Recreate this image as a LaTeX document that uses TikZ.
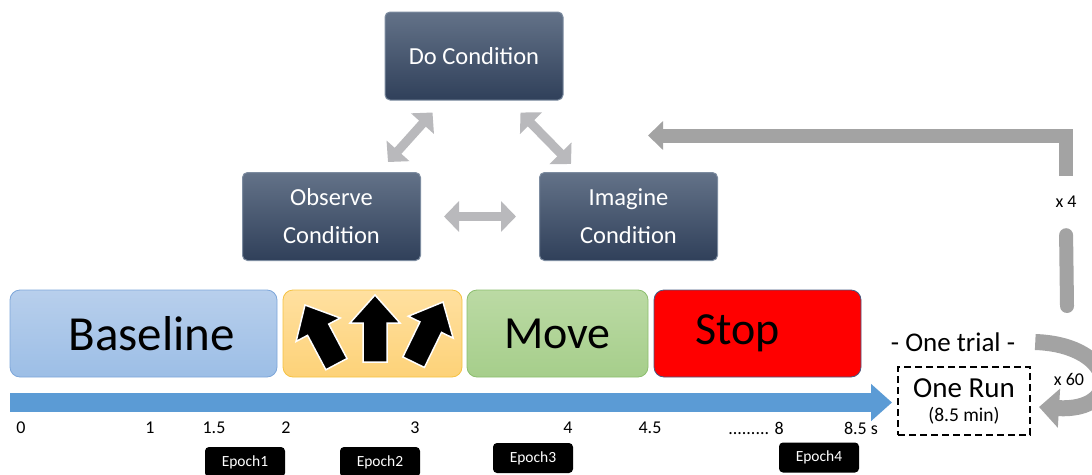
\documentclass[tikz,border=0pt]{standalone}
\usepackage{fontspec}
\setmainfont{Carlito}
\usetikzlibrary{arrows.meta,positioning}
\definecolor{slatetop}{RGB}{99,114,136}
\definecolor{slatebot}{RGB}{48,64,90}
\definecolor{slateedge}{RGB}{125,140,160}
\definecolor{basetop}{RGB}{184,207,236}
\definecolor{basebot}{RGB}{156,190,230}
\definecolor{baseedge}{RGB}{125,166,217}
\definecolor{cuetop}{RGB}{255,224,160}
\definecolor{cuebot}{RGB}{253,210,120}
\definecolor{cueedge}{RGB}{245,194,66}
\definecolor{movetop}{RGB}{187,218,164}
\definecolor{movebot}{RGB}{166,206,139}
\definecolor{moveedge}{RGB}{140,190,110}
\definecolor{stopred}{RGB}{255,0,0}
\definecolor{stopedge}{RGB}{70,90,130}
\definecolor{timeblue}{RGB}{91,155,213}
\definecolor{swapgray}{RGB}{185,185,188}
\definecolor{loopgray}{RGB}{163,163,163}

\begin{document}
\begin{tikzpicture}[x=1pt, y=-1pt,
    cond/.style={rectangle, rounded corners=5pt, draw=slateedge, line width=1pt, top color=slatetop, bottom color=slatebot, text=white, minimum width=178pt, minimum height=88pt, align=center, font=\fontsize{24.5}{38}\selectfont},
    phase/.style={rectangle, rounded corners=10pt, line width=0.8pt, minimum height=87pt, font=\fontsize{46}{50}\selectfont},
    tick/.style={inner sep=0pt, font=\fontsize{18}{20}\selectfont},
    epoch/.style={rectangle, rounded corners=4pt, fill=black, text=white, minimum width=80pt, minimum height=30pt, font=\fontsize{15.5}{17}\selectfont},
    swap/.style={line width=9pt, draw=swapgray, {Triangle[length=15pt,width=30pt]}-{Triangle[length=15pt,width=30pt]}},
    loopbar/.style={line width=14pt, draw=loopgray},
    bigarr/.style={fill=black, draw=white, line width=1.5pt, line join=miter},
    lbl/.style={inner sep=1pt, font=\fontsize{18}{20}\selectfont}
]
\useasboundingbox (0,0) rectangle (1092,474);
\clip (0,0) rectangle (1092,474);

% conditions
\node[cond] (do) at (474,56) {Do Condition};
\node[cond] (obs) at (331.5,216.5) {Observe\\Condition};
\node[cond] (img) at (628.5,216.5) {Imagine\\Condition};

\draw[swap] ([shift={(56.5,-10)}]obs.north) -- ([shift={(48,12)}]do.south west);
\draw[swap] ([shift={(-43,12)}]do.south east) -- ([shift={(32,-8)}]img.north west);
\draw[swap] ([xshift=23pt]obs.east) -- ([xshift=-23pt]img.west);

% trial phases
\node[phase, top color=basetop, bottom color=basebot, draw=baseedge, minimum width=267pt, font=\fontsize{49}{50}\selectfont] (base) at (143.5,333.5) {\hspace*{16pt}Baseline};
\node[phase, top color=cuetop, bottom color=cuebot, draw=cueedge, minimum width=179pt] (cue) at (372.5,333.5) {};
\node[phase, top color=movetop, bottom color=movebot, draw=moveedge, minimum width=181pt] (move) at (557.5,333.5) {Move};
\node[phase, fill=stopred, draw=stopedge, minimum width=207pt] (stop) at (757.5,333.5) {\hspace*{-40pt}Stop};

\foreach \tx/\ty/\rot in {305/305/28, 375/295/0, 443/302/-26}
  \draw[bigarr, shift={(\tx,\ty)}, rotate=\rot] (0,0) -- (25,28) -- (12,28) -- (12,67) -- (-12,67) -- (-12,28) -- (-25,28) -- cycle;

% timeline
\node[lbl, font=\fontsize{27}{29}\selectfont] (trial) at (953,342) {- One trial -};
\node[draw, dashed, line width=2pt, dash pattern=on 7pt off 4pt, minimum width=132pt, minimum height=68pt, align=center, font=\fontsize{29}{26}\selectfont] (run) at (964,401) {One Run\\[-2pt]{\fontsize{19.5}{21}\selectfont (8.5 min)}};
\coordinate (tstart) at (10,402.5);
\draw[line width=19pt, draw=timeblue, -{Triangle[length=21pt,width=36pt]}, shorten >=5pt] (tstart) -- (tstart -| run.west);

\node[tick] (t0) at (21,428) {0};
\node[tick] (t1) at (150,428) {1};
\node[tick] (t15) at (214,428) {1.5};
\node[tick] (t2) at (286,428) {2};
\node[tick] (t3) at (415,428) {3};
\node[tick] (t4) at (568,428) {4};
\node[tick] (t45) at (650,428) {4.5};
\node[tick] (t8) at (756,428) {......... 8};
\node[tick] (t85) at (861,428) {8.5 s};

\node[epoch] (ep1) at (245,462) {Epoch1};
\node[epoch] (ep2) at (380,462) {Epoch2};
\node[epoch] (ep3) at (533,458) {Epoch3};
\node[epoch] (ep4) at (819,457.5) {Epoch4};

% repetitions
\node[lbl, minimum height=52pt] (x4) at (1066,202) {x 4};
\node[lbl] (x60) at (1069,379) {x 60};
\coordinate (loopend) at (648,135.5);
\coordinate (loopbot) at (1067,306);
\draw[loopbar, line join=miter, -{Triangle[length=15pt,width=28pt]}] (x4.north) |- (loopend);
\draw[loopbar, line cap=round, shorten <=7pt] (x4.south) -- (loopbot);
\draw[loopbar, line width=16pt, -{Triangle[length=20pt,width=38pt]}] ([xshift=19pt]trial.east) .. controls (1118,345) and (1124,412) .. ([shift={(8,6)}]run.east);
\end{tikzpicture}
\end{document}
